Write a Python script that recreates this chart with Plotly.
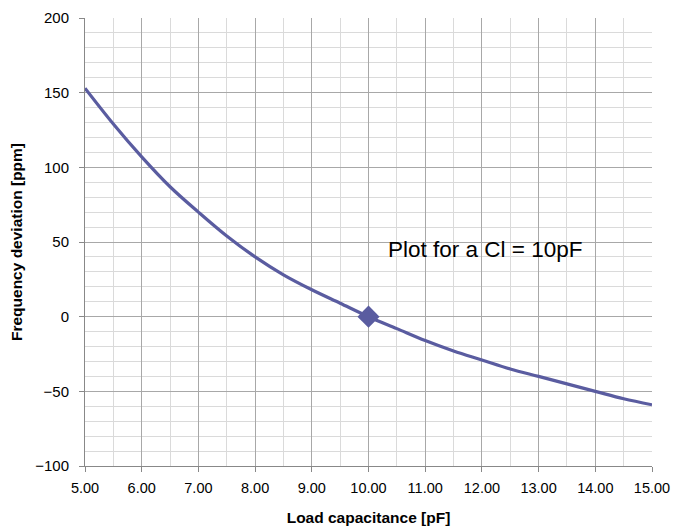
import plotly.graph_objects as go

cap_pf = [5.0, 5.5, 6.0, 6.5, 7.0, 7.5, 8.0, 8.5, 9.0, 9.5, 10.0,
          10.5, 11.0, 11.5, 12.0, 12.5, 13.0, 13.5, 14.0, 14.5, 15.0]
dev_ppm = [153, 129, 107, 87, 70, 54, 40, 28, 18, 9, 0,
           -8, -16, -23, -29, -35, -40, -45, -50, -55, -59]
marker_x = [10.0]
marker_y = [0]
x_ticks = [5, 6, 7, 8, 9, 10, 11, 12, 13, 14, 15]
y_ticks = [-100, -50, 0, 50, 100, 150, 200]

color = "#5A5CA0"
font_fam = "Liberation Sans, Arial"

fig = go.Figure()
fig.add_trace(go.Scatter(x=cap_pf, y=dev_ppm, mode="lines",
                         line=dict(color=color, width=3.2, shape="spline"),
                         showlegend=False, hoverinfo="skip"))
fig.add_trace(go.Scatter(x=marker_x, y=marker_y, mode="markers",
                         marker=dict(symbol="diamond", size=17, color=color),
                         showlegend=False))

fig.add_annotation(x=12.05, y=45, text="Plot for a Cl = 10pF", showarrow=False,
                   font=dict(family=font_fam, size=22.5, color="black"))

fig.update_xaxes(range=[5, 15], tickvals=x_ticks, tickformat=".2f", automargin=False,
                 showgrid=True, gridcolor="#A8A8A8", gridwidth=1,
                 minor=dict(dtick=0.5, tick0=5, showgrid=True, gridcolor="#DADADA", gridwidth=1),
                 showline=True, linecolor="#888888", linewidth=1,
                 ticks="outside", ticklen=5, tickcolor="#888888", ticklabelstandoff=4,
                 tickfont=dict(family=font_fam, size=14.5, color="black"),
                 title=dict(text="<b>Load capacitance [pF]</b>", standoff=16,
                            font=dict(family=font_fam, size=15.5, color="black")),
                 zeroline=False)
fig.update_yaxes(range=[-100, 200], tickvals=y_ticks, automargin=False,
                 showgrid=True, gridcolor="#A8A8A8", gridwidth=1,
                 minor=dict(dtick=10, tick0=0, showgrid=True, gridcolor="#DADADA", gridwidth=1),
                 showline=True, linecolor="#888888", linewidth=1,
                 ticks="outside", ticklen=5, tickcolor="#888888", ticklabelstandoff=7,
                 tickfont=dict(family=font_fam, size=15, color="black"),
                 title=dict(text="<b>Frequency deviation [ppm]</b>", standoff=8,
                            font=dict(family=font_fam, size=15.5, color="black")),
                 zeroline=False)

fig.update_layout(width=673, height=527, margin=dict(l=85, r=21, t=18, b=61),
                  plot_bgcolor="white", paper_bgcolor="white")

fig.write_html("out.html", config={"displayModeBar": False},
               post_script="document.body.style.margin='0';document.body.style.overflow='hidden';")
